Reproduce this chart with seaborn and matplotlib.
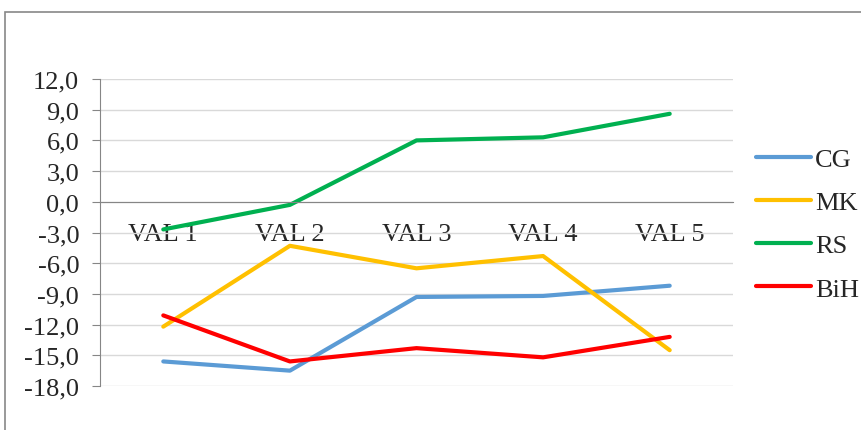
import pandas as pd
import matplotlib.pyplot as plt
from matplotlib.patches import Rectangle
import seaborn as sns

categories = ['VAL 1', 'VAL 2', 'VAL 3', 'VAL 4', 'VAL 5']
series_names = ['CG', 'MK', 'RS', 'BiH']
cg = [-15.6, -16.5, -9.3, -9.2, -8.2]
mk = [-12.2, -4.3, -6.5, -5.3, -14.5]
rs = [-2.7, -0.3, 6.0, 6.3, 8.6]
bih = [-11.1, -15.6, -14.3, -15.2, -13.2]
colors = ['#5B9BD5', '#FFC000', '#00B050', '#FF0000']
y_ticks = [-18, -15, -12, -9, -6, -3, 0, 3, 6, 9, 12]

sns.set_style('white')
plt.rcParams['font.family'] = ['Liberation Serif', 'DejaVu Serif']

df = pd.DataFrame({'cat': categories * 4,
                   'series': [s for s in series_names for _ in categories],
                   'value': cg + mk + rs + bih})

fig = plt.figure(figsize=(8.62, 4.31), dpi=100)
ax = fig.add_axes([100 / 862, 1 - 387 / 431, 633 / 862, 307 / 431])

sns.lineplot(data=df, x='cat', y='value', hue='series', palette=colors,
             sort=False, linewidth=3, ax=ax, legend=True)

ax.set_xlim(-0.5, 4.5)
ax.set_ylim(-18, 12)
ax.set_yticks(y_ticks)
ax.set_yticklabels([f'{v:.1f}'.replace('.', ',') for v in y_ticks], fontsize=19)
ax.yaxis.grid(True, color='#D9D9D9', linewidth=1)
ax.set_axisbelow(True)
ax.set_xlabel('')
ax.set_ylabel('')

for s in ['top', 'right']:
    ax.spines[s].set_visible(False)
ax.spines['bottom'].set_position(('data', 0))
ax.spines['bottom'].set_color('#868686')
ax.spines['left'].set_color('#868686')

ax.set_xticks(range(len(categories)))
ax.set_xticklabels(categories, fontsize=19)
ax.set_xticks([i - 0.5 for i in range(len(categories) + 1)], minor=True)
ax.tick_params(axis='x', which='major', length=0, pad=15)
ax.tick_params(axis='x', which='minor', length=6, color='#868686', direction='out')
ax.tick_params(axis='y', length=6, color='#868686', direction='out', pad=9, left=True)

handles, labels = ax.get_legend_handles_labels()
ax.get_legend().remove()
fig.legend(handles, labels, loc='center left', bbox_to_anchor=(756 / 862, 1 - 225 / 431),
           frameon=False, fontsize=19, handlelength=2.1, handletextpad=0.15,
           labelspacing=0.75, borderpad=0, borderaxespad=0)

fig.patches.append(Rectangle((5 / 862, -0.1), 1.2, 1.1 - 13 / 431, transform=fig.transFigure,
                             fill=False, edgecolor='#888888', linewidth=1.2))

fig.savefig('out.png', dpi=100)
